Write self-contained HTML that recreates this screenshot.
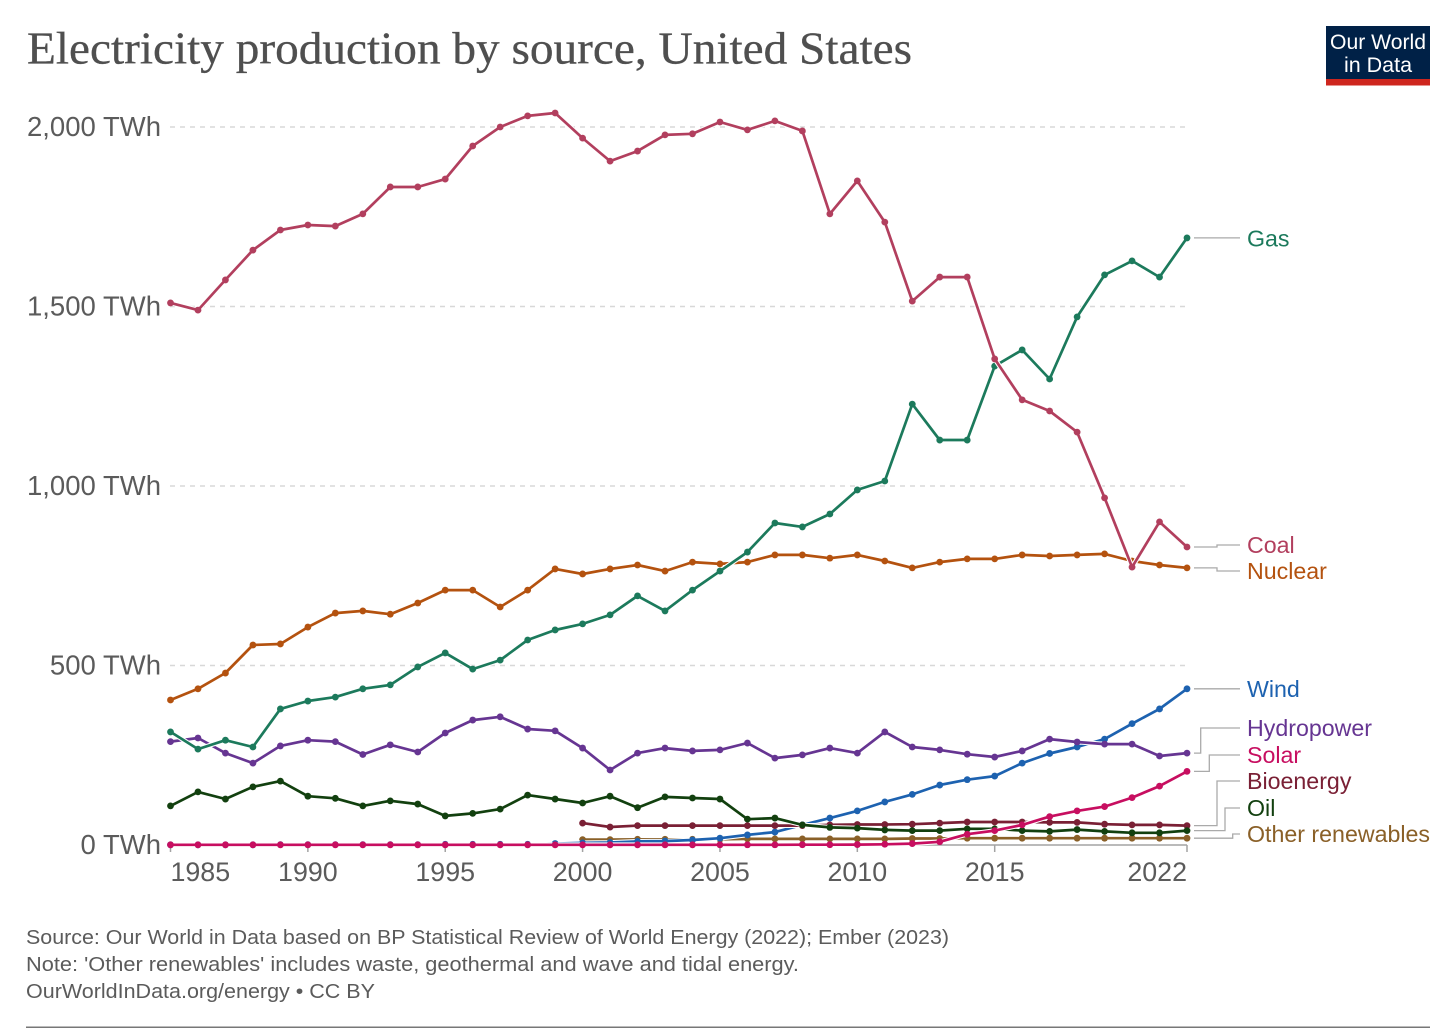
<!DOCTYPE html>
<html lang="en">
<head>
<meta charset="utf-8">
<title>Electricity production by source, United States</title>
<style>
html,body{margin:0;padding:0;background:#fff;}
svg{display:block;font-family:"Liberation Sans",Arial,sans-serif;}
</style>
</head>
<body>
<svg id="chart" xmlns="http://www.w3.org/2000/svg" width="1456" height="1028" viewBox="0 0 1456 1028">
  <rect x="0" y="0" width="1456" height="1028" fill="#fff"/>
  <text x="27" y="63.5" font-family="'Liberation Serif',serif" font-size="45.5" fill="#4f4f4f" stroke="#4f4f4f" stroke-width="0.3" textLength="885" lengthAdjust="spacingAndGlyphs">Electricity production by source, United States</text>
  <g>
    <rect x="1326" y="26" width="104" height="53.5" fill="#002147"/>
    <rect x="1326" y="79" width="104" height="6.5" fill="#ce261e"/>
    <text x="1378" y="49" text-anchor="middle" font-size="21.5" fill="#fff" textLength="96" lengthAdjust="spacingAndGlyphs">Our World</text>
    <text x="1378" y="72" text-anchor="middle" font-size="21.5" fill="#fff">in Data</text>
  </g>
  <g id="grid"></g>
  <g id="yticks"></g>
  <g id="xaxis"></g>
  <g id="connectors"></g>
  <g id="series"></g>
  <g id="labels"></g>
  <g font-size="20" fill="#5b5b5b">
    <text x="26" y="944" textLength="923" lengthAdjust="spacingAndGlyphs">Source: Our World in Data based on BP Statistical Review of World Energy (2022); Ember (2023)</text>
    <text x="26" y="971" textLength="773" lengthAdjust="spacingAndGlyphs">Note: 'Other renewables' includes waste, geothermal and wave and tidal energy.</text>
    <text x="26" y="998" textLength="349" lengthAdjust="spacingAndGlyphs">OurWorldInData.org/energy • CC BY</text>
  </g>
  <rect x="26" y="1026.5" width="1404" height="1.5" fill="#777"/>
</svg>
<script>
const years = [1985,1986,1987,1988,1989,1990,1991,1992,1993,1994,1995,1996,1997,1998,1999,2000,2001,2002,2003,2004,2005,2006,2007,2008,2009,2010,2011,2012,2013,2014,2015,2016,2017,2018,2019,2020,2021,2022];
const yTickValues = [0,500,1000,1500,2000];
const yTickLabels = ["0 TWh","500 TWh","1,000 TWh","1,500 TWh","2,000 TWh"];
const xTickYears = [1985,1990,1995,2000,2005,2010,2015,2022];

const coal = [1510,1490,1574,1657,1713,1727,1724,1758,1833,1833,1855,1947,2000,2031,2039,1969,1905,1933,1978,1981,2014,1992,2017,1989,1758,1850,1735,1515,1582,1582,1354,1240,1209,1150,967,774,900,830];
const gas = [315,267,292,273,379,401,412,435,446,496,535,490,515,571,599,616,641,694,652,710,763,816,897,886,922,989,1014,1228,1128,1128,1334,1379,1298,1471,1588,1627,1582,1691];
const nuclear = [404,435,479,557,560,607,646,652,643,674,710,710,663,710,769,755,769,780,763,788,783,788,808,808,799,808,791,772,788,797,797,808,805,808,811,791,780,772];
const wind = [0.5,0.5,0.5,0.5,1,1,1,1,1,1,2,2,2,2,4,6,7,10,11,14,19,28,36,56,75,95,120,141,167,182,192,228,255,273,295,338,379,435];
const hydropower = [288,298,256,228,276,292,288,252,279,259,312,348,357,323,318,270,209,256,270,262,265,284,242,251,270,256,315,273,265,253,245,262,295,287,281,281,248,256];
const solar = [0.5,0.5,0.5,0.5,0.5,0.5,0.5,0.5,0.5,0.5,0.5,0.5,0.5,0.5,0.5,0.5,0.5,0.5,0.5,0.5,0.6,0.6,0.6,0.9,0.9,1.2,2,4,9,30,40,56,79,95,107,132,164,205];
const bioenergy = [null,null,null,null,null,null,null,null,null,null,null,null,null,null,null,61,50,54,54,54,54,54,54,54,56,57,57,58,61,64,64,64,63,63,58,56,56,54];
const oil = [109,148,128,162,178,136,130,109,123,114,81,88,100,139,128,117,136,104,134,131,128,72,75,56,49,47,42,40,40,45,45,40,38,43,38,34,34,40];
const otherRenewables = [null,null,null,null,null,null,null,null,null,null,null,null,null,null,null,15,15,16,16,16,16,17,17,17,17,17,17,18,18,19,19,19,19,19,19,19,19,19];

const seriesList = [
  {key:"other-renewables", label:"Other renewables", values:otherRenewables, color:"#8a6028", labelY:834, elbowX:1232.7},
  {key:"wind", label:"Wind", values:wind, color:"#1d62b0", labelY:689, elbowX:1217},
  {key:"bioenergy", label:"Bioenergy", values:bioenergy, color:"#7a2035", labelY:781, elbowX:1217},
  {key:"oil", label:"Oil", values:oil, color:"#12400f", labelY:808, elbowX:1225},
  {key:"hydropower", label:"Hydropower", values:hydropower, color:"#663592", labelY:728, elbowX:1200.7},
  {key:"nuclear", label:"Nuclear", values:nuclear, color:"#b4520f", labelY:571, elbowX:1217},
  {key:"gas", label:"Gas", values:gas, color:"#1c7a5c", labelY:238.5, elbowX:1217},
  {key:"coal", label:"Coal", values:coal, color:"#b23f5e", labelY:545, elbowX:1217},
  {key:"solar", label:"Solar", values:solar, color:"#c70e60", labelY:755, elbowX:1209.3}
];

const NS = "http://www.w3.org/2000/svg";
function xScale(year){ return 170.5 + (year - 1985) * (1187 - 170.5) / (2022 - 1985); }
function yScale(v){ return 845 - v * (845 - 127) / 2000; }
function make(tag, attrs, parent){
  const el = document.createElementNS(NS, tag);
  for (const k in attrs) el.setAttribute(k, attrs[k]);
  parent.appendChild(el);
  return el;
}

const gridG = document.getElementById("grid");
const yG = document.getElementById("yticks");
yTickValues.forEach(function(v, i){
  const y = yScale(v);
  if (v !== 0) {
    const line = make("line", {x1:170, x2:1188, y1:y, y2:y, stroke:"#d8d8d8", "stroke-width":1.4, "stroke-dasharray":"5,5"}, gridG);
    
    
  }
  const t = make("text", {x:161, y:y + 9, "text-anchor":"end", "font-size":27.5, fill:"#5b5b5b"}, yG);
  t.textContent = yTickLabels[i];
  
  
});

const xG = document.getElementById("xaxis");
const axisLine = make("line", {x1:xScale(years[0]), x2:xScale(years[years.length-1]), y1:845, y2:845, stroke:"#a3a3a3", "stroke-width":1.5}, xG);


xTickYears.forEach(function(yr, i){
  const x = xScale(yr);
  const tick = make("line", {x1:x, x2:x, y1:845, y2:852, stroke:"#a3a3a3", "stroke-width":1.5}, xG);
  
  
  const anchor = i === 0 ? "start" : (i === xTickYears.length - 1 ? "end" : "middle");
  const t = make("text", {x:x, y:881, "text-anchor":anchor, "font-size":26.8, fill:"#5b5b5b"}, xG);
  t.textContent = String(yr);
  
  
});

const connG = document.getElementById("connectors");
const labG = document.getElementById("labels");
const serG = document.getElementById("series");
seriesList.forEach(function(s){
  const pts = [];
  s.values.forEach(function(v, i){
    if (v !== null) pts.push([xScale(years[i]), yScale(v)]);
  });
  const d = pts.map(function(p){ return p[0].toFixed(1) + "," + p[1].toFixed(1); }).join(" ");
  const group = make("g", {}, serG);
  
  
  const halo = make("polyline", {points:d, fill:"none", stroke:"#fff", "stroke-width":4.8, "stroke-linejoin":"round", "stroke-linecap":"round"}, group);
  
  
  const line = make("polyline", {points:d, fill:"none", stroke:s.color, "stroke-width":2.7, "stroke-linejoin":"round", "stroke-linecap":"round"}, group);
  
  
  pts.forEach(function(p){
    const dot = make("circle", {cx:p[0], cy:p[1], r:3.4, fill:s.color}, group);
    
    
  });

  const last = pts[pts.length - 1];
  const straight = Math.abs(last[1] - s.labelY) < 1.5;
  const path = straight
    ? "M1194 " + last[1].toFixed(1) + " H1240"
    : "M1194 " + last[1].toFixed(1) + " H" + s.elbowX + " V" + s.labelY + " H1240";
  const conn = make("path", {d:path, fill:"none", stroke:"#aaa", "stroke-width":1.3}, connG);
  
  

  const t = make("text", {x:1247, y:s.labelY + 8, "font-size":23.2, fill:s.color}, labG);
  t.textContent = s.label;
  
  
});
</script>
</body>
</html>
